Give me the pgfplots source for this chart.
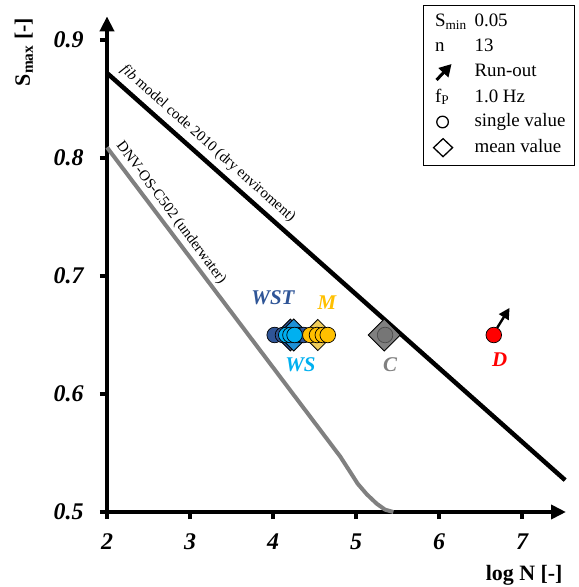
\documentclass[border=0pt]{standalone}
\usepackage{fontspec}
\setmainfont{Liberation Serif}
\usepackage{pgfplots}
\pgfplotsset{compat=1.18}
\usetikzlibrary{arrows.meta}
\definecolor{wst}{RGB}{47,85,151}
\definecolor{ws}{RGB}{0,176,240}
\definecolor{mm}{RGB}{255,192,0}
\definecolor{mmd}{RGB}{240,205,90}
\definecolor{wsd}{RGB}{30,145,215}
\definecolor{cg}{RGB}{128,128,128}
\definecolor{cgc}{RGB}{118,118,118}
\definecolor{dred}{RGB}{255,0,0}
\begin{document}
\begin{tikzpicture}
\path[use as bounding box] (-107bp,-75bp) rectangle (472bp,512bp);
\begin{axis}[
  at={(0,0)}, anchor=south west,
  scale only axis, width=459bp, height=495.6bp,
  xmin=2, xmax=7.53, ymin=0.5, ymax=0.92,
  axis lines=left,
  axis line style={line width=4bp, -{Triangle[length=15bp,width=14bp]}},
  xtick={2,3,4,5,6,7}, ytick={0.5,0.6,0.7,0.8,0.9},
  tick align=outside, major tick length=7bp,
  tick style={line width=3.5bp, black},
  ticklabel style={font=\fontsize{24}{24}\selectfont\bfseries\itshape},
  /pgf/number format/assume math mode=true,
  yticklabel style={xshift=-13bp, /pgf/number format/.cd, fixed, fixed zerofill, precision=1},
  xticklabel style={yshift=-11bp},
  xlabel={\textbf{log N [-]}},
  ylabel={\textbf{S\textsubscript{max} [-]}},
  label style={font=\fontsize{22}{22}\selectfont},
  xlabel style={at={(rel axis cs:1.0,-0.127)}, anchor=east},
  ylabel style={at={(rel axis cs:-0.181,0.928)}, anchor=center, rotate=0},
  clip=false,
  legend style={at={(rel axis cs:1.0196,1.023)}, anchor=north east,
    draw=black, line width=1bp, fill=white,
    font=\fontsize{19}{22}\selectfont,
    inner xsep=9bp, inner ysep=8bp, row sep=7.5bp,
    nodes={inner sep=0pt, text height=13bp, text depth=4bp},
    /tikz/every even column/.append style={column sep=10bp}},
  legend cell align=left,
]
% design curves
\addplot[black, line width=4.5bp, forget plot] coordinates {(2,0.872) (7.52,0.527)};
\addplot[cg, line width=4bp, forget plot] coordinates {(2,0.809) (4.81,0.547) (4.92,0.535) (5.02,0.524) (5.13,0.515) (5.25,0.507) (5.35,0.502) (5.45,0.5)};
% mean values (diamonds)
\addplot[only marks, mark=square*, mark size=11.3bp, mark options={rotate=45, fill=wst, draw=black, line width=0.8bp}, forget plot] coordinates {(4.21,0.65)};
\addplot[only marks, mark=square*, mark size=11.3bp, mark options={rotate=45, fill=wsd, draw=black, line width=0.8bp}, forget plot] coordinates {(4.25,0.65)};
\addplot[only marks, mark=square*, mark size=11bp, mark options={rotate=45, fill=mmd, draw=black, line width=0.8bp}, forget plot] coordinates {(4.54,0.65)};
\addplot[only marks, mark=square*, mark size=11.3bp, mark options={rotate=45, fill=cg, draw=black, line width=0.8bp}, forget plot] coordinates {(5.34,0.65)};
% single values (circles)
\addplot[only marks, mark=*, mark size=7.8bp, mark options={fill=wst, draw=black, line width=0.7bp}, forget plot] coordinates {(4.02,0.65) (4.12,0.65) (4.30,0.65) (4.37,0.65)};
\addplot[only marks, mark=*, mark size=7.8bp, mark options={fill=ws, draw=black, line width=0.7bp}, forget plot] coordinates {(4.16,0.65) (4.21,0.65) (4.26,0.65)};
\addplot[only marks, mark=*, mark size=7.8bp, mark options={fill=mm, draw=black, line width=0.7bp}, forget plot] coordinates {(4.45,0.65) (4.53,0.65) (4.60,0.65) (4.66,0.65)};
\addplot[only marks, mark=*, mark size=7.8bp, mark options={fill=cgc, draw=black!70, line width=0.7bp}, forget plot] coordinates {(5.35,0.65)};
\addplot[only marks, mark=*, mark size=7.8bp, mark options={fill=dred, draw=black, line width=0.7bp}, forget plot] coordinates {(6.66,0.65)};
% run-out arrow
\addplot[black, line width=2.4bp, -{Triangle[length=11bp,width=11bp]}, forget plot] coordinates {(6.70,0.656) (6.85,0.673)};
% labels
\node[font=\fontsize{21}{21}\selectfont\bfseries\itshape, text=wst] at (axis cs:4.0,0.682) {WST};
\node[font=\fontsize{21}{21}\selectfont\bfseries\itshape, text=mm] at (axis cs:4.65,0.677) {M};
\node[font=\fontsize{21}{21}\selectfont\bfseries\itshape, text=ws] at (axis cs:4.33,0.6246) {WS};
\node[font=\fontsize{21}{21}\selectfont\bfseries\itshape, text=cg] at (axis cs:5.41,0.625) {C};
\node[font=\fontsize{21}{21}\selectfont\bfseries\itshape, text=dred] at (axis cs:6.73,0.629) {D};
\node[rotate=-41.6, font=\fontsize{15}{15}\selectfont] at (axis cs:3.217,0.812) {\textit{fib} model code 2010 (dry enviroment)};
\node[rotate=-53.1, font=\fontsize{15}{15}\selectfont] at (axis cs:2.771,0.7535) {DNV-OS-C502 (underwater)};
% legend
\addlegendimage{legend image code/.code={\path[draw=none,fill=none] (0bp,-8bp) rectangle (40bp,8bp); \node[anchor=west, inner sep=0pt, text height=13bp, text depth=4bp, font=\fontsize{19}{22}\selectfont] at (0bp,0bp) {S\textsubscript{min}};}}
\addlegendentry{0.05}
\addlegendimage{legend image code/.code={\path[draw=none,fill=none] (0bp,-8bp) rectangle (40bp,8bp); \node[anchor=west, inner sep=0pt, text height=13bp, text depth=4bp, font=\fontsize{19}{22}\selectfont] at (0bp,0bp) {n};}}
\addlegendentry{13}
\addlegendimage{legend image code/.code={\path[draw=none,fill=none] (0bp,-8bp) rectangle (40bp,8bp); \draw[black, line width=3bp, -{Triangle[length=12bp,width=13bp]}] (2bp,-8bp) -- (17bp,8bp);}}
\addlegendentry{Run-out}
\addlegendimage{legend image code/.code={\path[draw=none,fill=none] (0bp,-8bp) rectangle (40bp,8bp); \node[anchor=west, inner sep=0pt, text height=13bp, text depth=4bp, font=\fontsize{19}{22}\selectfont] at (0bp,0bp) {f\textsubscript{P}};}}
\addlegendentry{1.0 Hz}
\addlegendimage{legend image code/.code={\path[draw=none,fill=none] (0bp,-8bp) rectangle (40bp,8bp); \draw[black, line width=1.3bp] (8bp,0bp) circle (5.8bp);}}
\addlegendentry{single value}
\addlegendimage{legend image code/.code={\path[draw=none,fill=none] (0bp,-8bp) rectangle (40bp,8bp); \draw[black, line width=1.3bp] (-1bp,0bp) -- (8.5bp,9bp) -- (18bp,0bp) -- (8.5bp,-9bp) -- cycle;}}
\addlegendentry{mean value}
\end{axis}
\end{tikzpicture}
\end{document}
